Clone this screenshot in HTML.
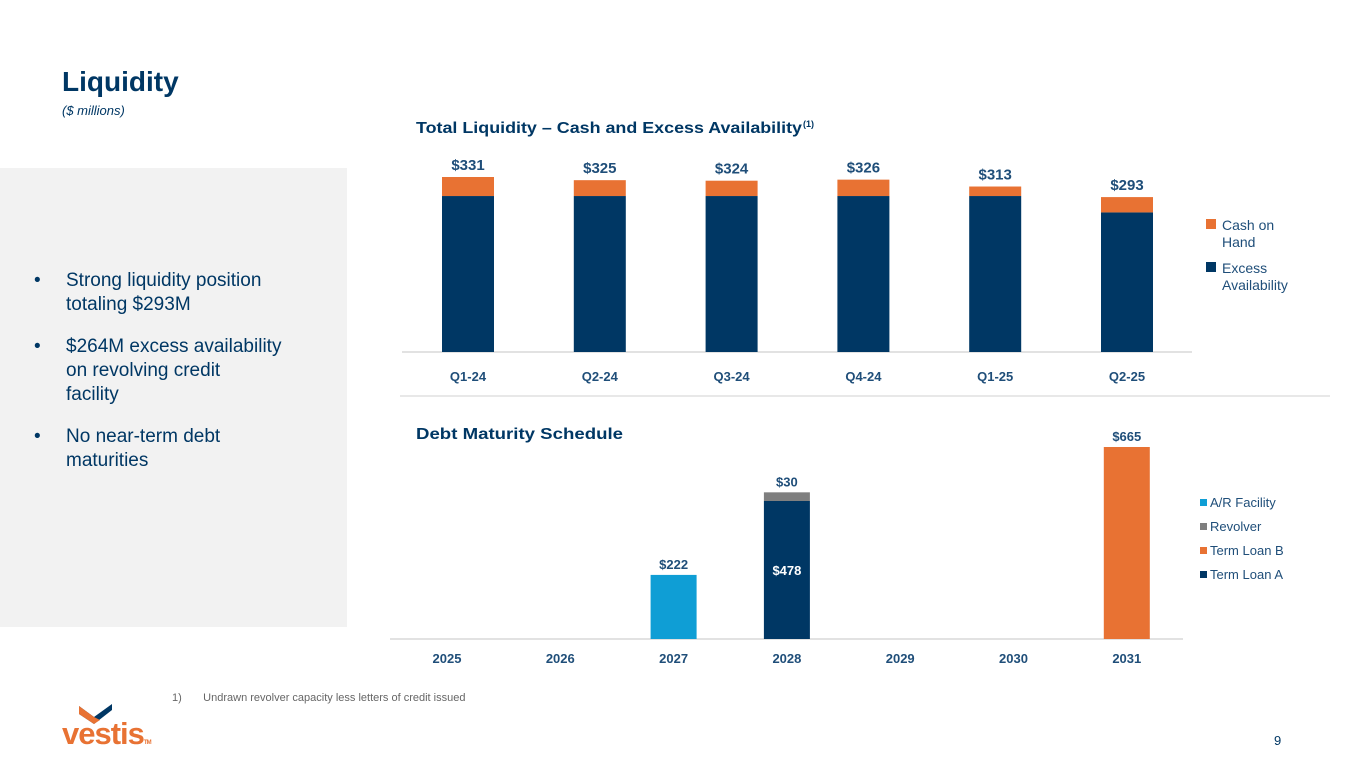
<!DOCTYPE html>
<html><head><meta charset="utf-8"><style>
body{margin:0;width:1365px;height:768px;background:#fff;font-family:"Liberation Sans",sans-serif;position:relative;overflow:hidden}
.abs{position:absolute}
#title{left:62px;top:66px;font-size:28px;font-weight:bold;color:#003764}
#sub{left:62px;top:103px;font-size:13px;font-style:italic;color:#003764}
#panel{left:0;top:168px;width:347px;height:459px;background:#f2f2f2}
#panel ul{margin:0;padding:0;list-style:none;position:absolute;left:34px;top:101px;width:285px}
#panel li{font-size:19px;color:#003764;line-height:24px;margin-bottom:18px;padding-left:32px;position:relative}
#panel li:before{content:"•";position:absolute;left:0}
svg{position:absolute;left:0;top:0}
</style></head><body>
<div id="title" class="abs">Liquidity</div>
<div id="sub" class="abs">($ millions)</div>
<div id="panel" class="abs"><ul>
<li>Strong liquidity position<br>totaling $293M</li>
<li>$264M excess availability<br>on revolving credit<br>facility</li>
<li>No near-term debt<br>maturities</li></ul></div>
<svg id="chart" width="1365" height="768"></svg>
<div class="abs" style="left:172px;top:692px;font-size:11px;color:#666">1)&nbsp;&nbsp;&nbsp;&nbsp;&nbsp;&nbsp;&nbsp;Undrawn revolver capacity less letters of credit issued</div>
<div class="abs" style="left:62px;top:716px;font-size:31px;font-weight:bold;color:#E87233;letter-spacing:-1px">vestis<span style="font-size:6px;color:#E87233">TM</span></div>
<svg width="1365" height="768" style="pointer-events:none"><polygon points="79,706 94,717 112,704 112,710 94,724 79,714" fill="#003764"/><polygon points="79,706 94,717 100,720 94,724 79,714" fill="#E87233"/></svg>
<div class="abs" style="left:1274px;top:733px;font-size:13px;color:#003764">9</div>
<script>
const quarters=["Q1-24","Q2-24","Q3-24","Q4-24","Q1-25","Q2-25"];
const excess=[295,295,295,295,295,264];
const cash=[36,30,29,31,18,29];
const totals=["$331","$325","$324","$326","$313","$293"];
const years=["2025","2026","2027","2028","2029","2030","2031"];
const arFacility=[0,0,222,0,0,0,0];
const revolver=[0,0,0,30,0,0,0];
const termB=[0,0,0,0,0,0,665];
const termA=[0,0,0,478,0,0,0];
const NS="http://www.w3.org/2000/svg",svg=document.getElementById('chart');
function mk(t,a,txt){const e=document.createElementNS(NS,t);for(const k in a)e.setAttribute(k,a[k]);if(txt!=null)e.textContent=txt;svg.appendChild(e);return e;}
const NAVY="#003764",OR="#E87233",LB="#0F9ED5",GR="#7F7F7F",TXT="#1f4e79";
let e=mk('text',{x:416,y:133,'font-size':16,'font-weight':'bold',fill:NAVY,textLength:386,lengthAdjust:'spacingAndGlyphs'},'Total Liquidity – Cash and Excess Availability');

e=mk('text',{x:803,y:127,'font-size':9,'font-weight':'bold',fill:NAVY},'(1)');

const tBase=352,tScale=175/331,tx=i=>468+i*131.8,bw=52;
e=mk('line',{x1:402,x2:1192,y1:tBase,y2:tBase,stroke:'#d9d9d9','stroke-width':1.5});

quarters.forEach((q,i)=>{
 const he=excess[i]*tScale,hc=cash[i]*tScale;
 let r=mk('rect',{x:tx(i)-bw/2,y:tBase-he,width:bw,height:he,fill:NAVY});
 
 r=mk('rect',{x:tx(i)-bw/2,y:tBase-he-hc,width:bw,height:hc,fill:OR});
 
 r=mk('text',{x:tx(i),y:tBase-he-hc-7,'font-size':15,'font-weight':'bold',fill:TXT,'text-anchor':'middle'},totals[i]);
 
 r=mk('text',{x:tx(i),y:381,'font-size':13,'font-weight':'bold',fill:TXT,'text-anchor':'middle'},q);
 
});
[[OR,"Cash on","Hand",219],[NAVY,"Excess","Availability",262]].forEach((l,i)=>{
 let r=mk('rect',{x:1206,y:l[3],width:10,height:10,fill:l[0]});
 
 r=mk('text',{x:1222,y:l[3]+11,'font-size':14,fill:TXT},l[1]);
 
 r=mk('text',{x:1222,y:l[3]+28,'font-size':14,fill:TXT},l[2]);
 
});
e=mk('line',{x1:400,x2:1330,y1:396,y2:396,stroke:'#e0e0e0','stroke-width':1.5});

e=mk('text',{x:416,y:439,'font-size':16,'font-weight':'bold',fill:NAVY,textLength:207,lengthAdjust:'spacingAndGlyphs'},'Debt Maturity Schedule');

const bBase=639,bScale=192/665,bx=i=>447+i*113.3,bbw=46;
e=mk('line',{x1:390,x2:1183,y1:bBase,y2:bBase,stroke:'#d9d9d9','stroke-width':1.5});

years.forEach((y,i)=>{
 let top=bBase;
 [[termA,NAVY,'term-loan-a'],[termB,OR,'term-loan-b'],[arFacility,LB,'ar-facility'],[revolver,GR,'revolver']].forEach(s=>{
  const v=s[0][i];if(!v)return;const h=v*bScale;
  let r=mk('rect',{x:bx(i)-bbw/2,y:top-h,width:bbw,height:h,fill:s[1]});
  
  if(s[2]==='term-loan-a'){r=mk('text',{x:bx(i),y:top-h/2+5,'font-size':13,'font-weight':'bold',fill:'#fff','text-anchor':'middle'},'$'+v);}
  else{r=mk('text',{x:bx(i),y:top-h-6,'font-size':13,'font-weight':'bold',fill:TXT,'text-anchor':'middle'},'$'+v);}
  
  top-=h;
 });
 let t=mk('text',{x:bx(i),y:663,'font-size':13,'font-weight':'bold',fill:TXT,'text-anchor':'middle'},y);
 
});
[[LB,"A/R Facility"],[GR,"Revolver"],[OR,"Term Loan B"],[NAVY,"Term Loan A"]].forEach((l,i)=>{
 const y=499+i*24;
 let r=mk('rect',{x:1200,y:y,width:7,height:7,fill:l[0]});
 
 r=mk('text',{x:1210,y:y+8,'font-size':13,fill:TXT},l[1]);
 
});
</script>
</body></html>
